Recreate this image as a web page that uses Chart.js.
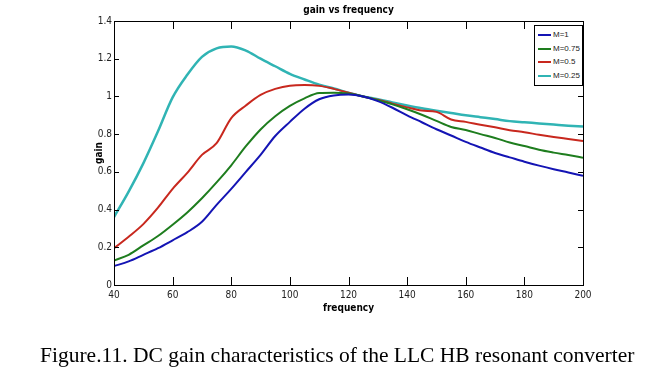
<!DOCTYPE html>
<html>
<head>
<meta charset="utf-8">
<script src="https://cdn.jsdelivr.net/npm/chart.js@4.4.1/dist/chart.umd.min.js"></script>
<style>
    body { margin: 0; background: #fff; }
    #wrap { position: relative; width: 645px; height: 370px; background: #fff; overflow: hidden; }
    #legend {
        position: absolute; left: 534px; top: 25px; width: 47px; height: 59px;
        border: 1px solid #000; background: #fff;
        font-family: "Liberation Sans", Arial, sans-serif; font-size: 8px; color: #222;
    }
    .leg-row { position: absolute; left: 3px; height: 10px; line-height: 10px; white-space: nowrap; }
    .leg-line { display: inline-block; width: 13px; height: 2px; vertical-align: middle; margin-right: 2px; }
    #caption {
        position: absolute; left: 40px; top: 343px; white-space: nowrap;
        font-family: "Liberation Serif", "Times New Roman", serif; font-size: 21.5px; line-height: 24px; color: #000;
    }
</style>
</head>
<body>
<div id="wrap">
    <canvas id="gainChart" width="645" height="370"></canvas>
    <div id="legend"></div>
    <div id="caption">Figure.11. DC gain characteristics of the LLC HB resonant converter</div>
</div>
<script>
// values
const freq = [40, 45, 50, 55, 60, 65, 70, 75, 80, 85, 90, 95, 100, 105, 110, 115, 120,
    125, 130, 135, 140, 145, 150, 155, 160, 165, 170, 175, 180, 185, 190, 195, 200];

const gainM1 = [0.10, 0.125, 0.16, 0.195, 0.237, 0.28, 0.335, 0.425, 0.51, 0.60, 0.69, 0.79, 0.865, 0.935, 0.985, 1.005, 1.01,
    1.0, 0.975, 0.94, 0.90, 0.863, 0.826, 0.793, 0.759, 0.729, 0.70, 0.677, 0.654, 0.633, 0.614, 0.597, 0.579];
const gainM075 = [0.13, 0.16, 0.21, 0.26, 0.32, 0.385, 0.46, 0.544, 0.635, 0.736, 0.825, 0.895, 0.95, 0.99, 1.018, 1.02, 1.015,
    1.0, 0.98, 0.958, 0.932, 0.903, 0.87, 0.838, 0.822, 0.80, 0.78, 0.756, 0.737, 0.717, 0.702, 0.689, 0.675];
const gainM05 = [0.195, 0.256, 0.323, 0.41, 0.51, 0.595, 0.69, 0.752, 0.885, 0.952, 1.008, 1.04, 1.057, 1.06, 1.056, 1.04, 1.02,
    1.0, 0.982, 0.962, 0.942, 0.925, 0.918, 0.878, 0.865, 0.85, 0.836, 0.821, 0.81, 0.797, 0.785, 0.774, 0.763];
const gainM025 = [0.36, 0.495, 0.645, 0.815, 0.995, 1.115, 1.21, 1.255, 1.265, 1.243, 1.20, 1.16, 1.12, 1.09, 1.062, 1.042, 1.02,
    1.0, 0.985, 0.968, 0.952, 0.937, 0.924, 0.912, 0.90, 0.89, 0.88, 0.869, 0.863, 0.857, 0.851, 0.845, 0.84];

const seriesLabels = ['M=1', 'M=0.75', 'M=0.5', 'M=0.25'];
const seriesColors = ['#1414b4', '#1e7d1e', '#c8281e', '#30b4b4'];

const xTicks = ['40', '60', '80', '100', '120', '140', '160', '180', '200'];
const yTicks = ['0', '0.2', '0.4', '0.6', '0.8', '1', '1.2', '1.4'];

const narrow = '"Liberation Sans Narrow", "DejaVu Sans Condensed", "Liberation Sans", sans-serif';

function toPoints(values) {
    return freq.map((f, i) => ({ x: f, y: values[i] }));
}

// matlab style box with ticks pointing inward
const framePlugin = {
    id: 'frame',
    afterDatasetsDraw(chart) {
        const { ctx, chartArea: a, scales: { x, y } } = chart;
        ctx.save();
        ctx.strokeStyle = '#000';
        ctx.lineWidth = 1;
        ctx.beginPath();
        x.ticks.forEach((t, i) => {
            const px = Math.round(x.getPixelForTick(i)) + 0.5;
            ctx.moveTo(px, a.bottom); ctx.lineTo(px, a.bottom - 8);
            ctx.moveTo(px, a.top); ctx.lineTo(px, a.top + 8);
        });
        y.ticks.forEach((t, i) => {
            const py = Math.round(y.getPixelForTick(i)) + 0.5;
            ctx.moveTo(a.left, py); ctx.lineTo(a.left + 5, py);
            ctx.moveTo(a.right, py); ctx.lineTo(a.right - 5, py);
        });
        ctx.stroke();
        ctx.strokeRect(Math.round(a.left) + 0.5, Math.round(a.top) + 0.5,
            Math.round(a.right - a.left), Math.round(a.bottom - a.top));
        ctx.restore();
    }
};

function buildLegend() {
    const legend = document.getElementById('legend');
    seriesLabels.forEach((label, i) => {
        const row = document.createElement('div');
        row.className = 'leg-row';
        row.style.top = (4 + i * 13.7) + 'px';
        row.innerHTML = `<span class="leg-line" style="background:${seriesColors[i]}"></span>${label}`;
        legend.appendChild(row);
    });
}

const allSeries = [gainM1, gainM075, gainM05, gainM025];

new Chart(document.getElementById('gainChart'), {
    type: 'line',
    data: {
        datasets: allSeries.map((values, i) => ({
            label: seriesLabels[i],
            data: toPoints(values),
            borderColor: seriesColors[i],
            backgroundColor: seriesColors[i],
            borderWidth: i === 3 ? 2.5 : 2,
            pointRadius: 0,
            cubicInterpolationMode: 'monotone',
            fill: false
        }))
    },
    options: {
        responsive: false,
        animation: false,
        devicePixelRatio: 1,
        layout: { padding: { left: 0, right: 62, top: 0, bottom: 0 } },
        plugins: {
            legend: { display: false },
            tooltip: { enabled: false },
            title: {
                display: true,
                text: 'gain vs frequency',
                fullSize: false,
                color: '#000',
                font: { family: narrow, size: 10, weight: 'bold' },
                padding: { top: 4, bottom: 5 }
            }
        },
        scales: {
            x: {
                type: 'linear',
                min: 40,
                max: 200,
                afterFit: scale => { scale.height = 85; },
                grid: { display: false, drawTicks: false },
                border: { display: false },
                ticks: {
                    stepSize: 20,
                    padding: 4,
                    color: '#222',
                    font: { family: narrow, size: 10 },
                    maxRotation: 0,
                    callback: (v, i) => xTicks[i]
                },
                title: {
                    display: true,
                    text: 'frequency',
                    color: '#000',
                    font: { family: narrow, size: 10, weight: 'bold' },
                    padding: { top: 0, bottom: 56 }
                }
            },
            y: {
                min: 0,
                max: 1.4,
                afterFit: scale => { scale.width = 114; },
                grid: { display: false, drawTicks: false },
                border: { display: false },
                ticks: {
                    stepSize: 0.2,
                    padding: 2,
                    color: '#222',
                    font: { family: narrow, size: 10 },
                    callback: (v, i) => yTicks[i]
                },
                title: {
                    display: true,
                    text: 'gain',
                    color: '#000',
                    font: { family: narrow, size: 10, weight: 'bold' },
                    padding: { top: 93, bottom: 0 }
                }
            }
        }
    },
    plugins: [framePlugin]
});

buildLegend();
</script>
</body>
</html>
